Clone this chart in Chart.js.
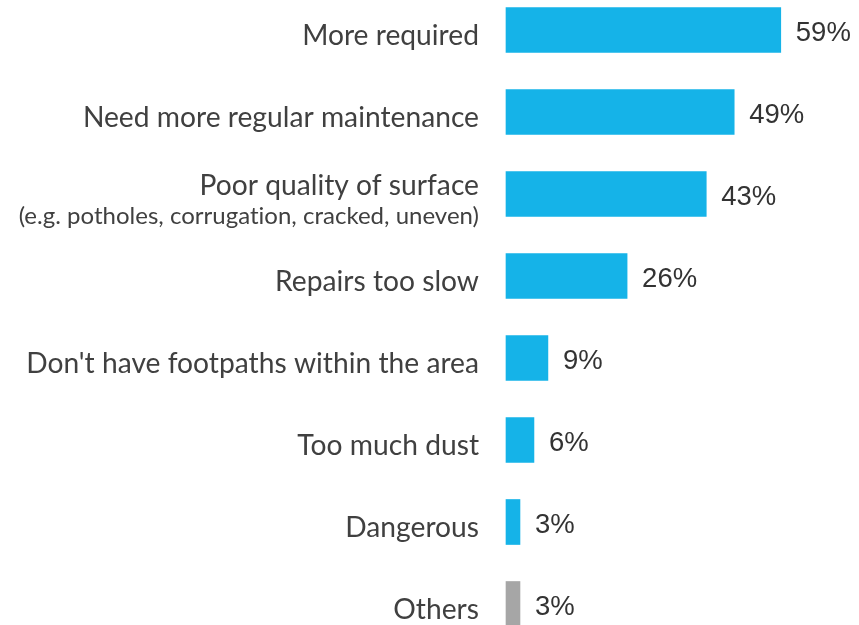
<!DOCTYPE html>
<html>
<head>
<meta charset="utf-8">
<script src="https://cdn.jsdelivr.net/npm/chart.js@4"></script>
<style>
  html, body { margin: 0; padding: 0; background: #fff; }
  #wrap { width: 859px; height: 625px; }
</style>
</head>
<body>
<div id="wrap"><canvas id="myChart" width="859" height="625"></canvas></div>
<script>
let categories = ["More required", "Need more regular maintenance", "Poor quality of surface",
    "Repairs too slow", "Don't have footpaths within the area", "Too much dust", "Dangerous", "Others"];
let subLabels = ["", "", "(e.g. potholes, corrugation, cracked, uneven)", "", "", "", "", ""];
let values = [59, 49, 43, 26, 9, 6, 3, 3];
let barColors = ["#15b3e8", "#15b3e8", "#15b3e8", "#15b3e8", "#15b3e8", "#15b3e8", "#15b3e8", "#a6a6a6"];

// draws category labels (two sizes) and value labels
let labelPlugin = {
    id: 'labels',
    afterDatasetsDraw(chart) {
        let ctx = chart.ctx;
        let yScale = chart.scales.y;
        let meta = chart.getDatasetMeta(0);
        ctx.save();
        ctx.fillStyle = '#404040';
        ctx.textAlign = 'right';
        ctx.textBaseline = 'alphabetic';
        ctx.letterSpacing = '0.01px';
        categories.forEach((c, i) => {
            let y = yScale.getPixelForTick(i);
            ctx.font = '28.2px Lato';
            if (subLabels[i]) {
                ctx.fillText(c, 479, y + 1);
                ctx.font = '24px Lato';
                ctx.fillText(subLabels[i], 479, y + 30);
            } else {
                ctx.fillText(c, 479, y + 15);
            }
        });
        ctx.textAlign = 'left';
        ctx.font = '27.5px "Liberation Sans"';
        ctx.fillStyle = '#333333';
        meta.data.forEach((bar, i) => {
            ctx.fillText(values[i] + '%', bar.x + 15, bar.y + 11);
        });
        ctx.restore();
    }
};

let ctx = document.getElementById('myChart').getContext('2d');
new Chart(ctx, {
    type: 'bar',
    data: {
        labels: categories,
        datasets: [{
            data: values,
            backgroundColor: barColors,
            barThickness: 45,
            clip: false
        }]
    },
    options: {
        indexAxis: 'y',
        responsive: false,
        animation: false,
        layout: { padding: { top: 30, bottom: 21, left: 0, right: 27 } },
        plugins: { legend: { display: false }, tooltip: { enabled: false } },
        scales: {
            x: {
                min: 0, max: 70,
                display: false
            },
            y: {
                offset: false,
                grid: { display: false, drawTicks: false },
                border: { display: false },
                ticks: { display: false },
                afterFit(scale) { scale.width = 506; }
            }
        }
    },
    plugins: [labelPlugin]
});
</script>
</body>
</html>
